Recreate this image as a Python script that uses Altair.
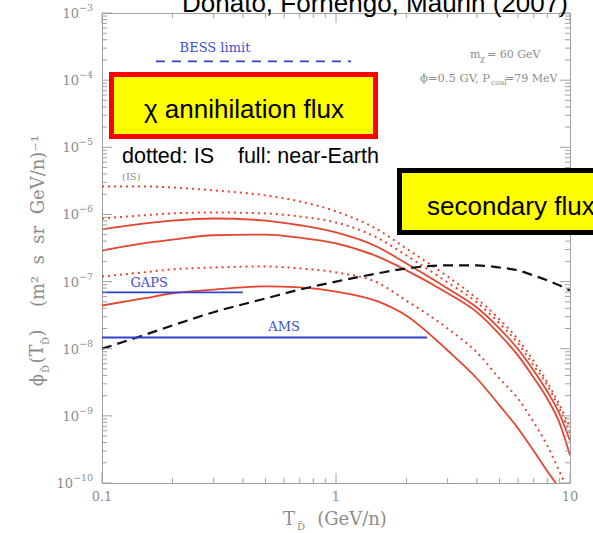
import altair as alt
import pandas as pd

# Kinetic energy per nucleon (GeV/n)
T = [0.1, 0.15, 0.2, 0.3, 0.5, 0.7, 1, 1.5, 2, 3, 4, 5, 6, 7, 8, 9, 10]

# Antideuteron fluxes (m^2 s sr GeV/n)^-1 from chi annihilation
is_high = [2.61e-6, 2.61e-6, 2.52e-6, 2.28e-6, 1.92e-6, 1.56e-6, 1.11e-6, 6.0e-7, 3.1e-7,
           1.19e-7, 5.6e-8, 2.73e-8, 1.37e-8, 6.5e-9, 3.15e-9, 1.48e-9, 6.7e-10]
is_mid = [8.7e-7, 9.7e-7, 1.035e-6, 1.07e-6, 1.035e-6, 9.3e-7, 7.6e-7, 4.5e-7, 2.45e-7,
          9.7e-8, 4.9e-8, 2.38e-8, 1.20e-8, 5.6e-9, 2.84e-9, 1.29e-9, 5.5e-10]
is_low = [1.19e-7, 1.37e-7, 1.52e-7, 1.62e-7, 1.68e-7, 1.57e-7, 1.37e-7, 9.7e-8, 5.2e-8,
          2.0e-8, 8.8e-9, 3.6e-9, 1.8e-9, 8.0e-10, 3.6e-10, 1.5e-10, 6.7e-11]
ne_high = [6.0e-7, 7.3e-7, 8.1e-7, 8.7e-7, 8.1e-7, 6.9e-7, 5.4e-7, 3.3e-7, 1.86e-7,
           7.9e-8, 4.1e-8, 2.0e-8, 9.8e-9, 4.7e-9, 2.3e-9, 1.09e-9, 4.3e-10]
ne_mid = [2.9e-7, 3.7e-7, 4.2e-7, 4.9e-7, 5.0e-7, 4.5e-7, 3.7e-7, 2.37e-7, 1.47e-7,
          6.7e-8, 3.5e-8, 1.63e-8, 7.9e-9, 3.7e-9, 1.8e-9, 8.0e-10, 2.6e-10]
ne_low = [4.4e-8, 5.6e-8, 6.7e-8, 7.6e-8, 8.5e-8, 8.2e-8, 7.1e-8, 5.1e-8, 3.1e-8,
          9.4e-9, 3.6e-9, 1.43e-9, 6.5e-10, 3.0e-10, 1.5e-10, 8.2e-11, 4.1e-11]
# Secondary (spallation) antideuteron flux
secondary = [1.0e-8, 1.58e-8, 2.22e-8, 3.5e-8, 5.6e-8, 7.6e-8, 1.0e-7, 1.32e-7, 1.57e-7,
             1.74e-7, 1.74e-7, 1.62e-7, 1.47e-7, 1.23e-7, 1.04e-7, 8.8e-8, 7.4e-8]

# Experimental sensitivities
limit_names = ["BESS limit", "GAPS", "AMS"]
limit_tmin = [0.17, 0.1, 0.1]
limit_tmax = [1.16, 0.40, 2.45]
limit_flux = [1.9e-4, 6.9e-8, 1.47e-8]
label_t = [0.304, 0.159, 0.60]
label_flux = [2.96e-4, 9.4e-8, 2.07e-8]

# Axis ticks and their labels
x_major = [0.1, 1, 10]
x_tick_labels = ["0.1", "1", "10"]
x_minor = [0.2, 0.3, 0.4, 0.5, 0.6, 0.7, 0.8, 0.9, 2, 3, 4, 5, 6, 7, 8, 9]
y_major = [1e-10, 1e-9, 1e-8, 1e-7, 1e-6, 1e-5, 1e-4, 1e-3]
y_tick_exponents = ["−10", "−9", "−8", "−7", "−6", "−5", "−4", "−3"]
y_minor = [k * 10.0 ** e for e in range(-10, -3) for k in range(2, 10)]

RED = "#e5452f"
BLUE = "#2f42d0"
GRAY = "#8c8c8c"
FRAME = "#a0a0a0"
SERIF = "DejaVu Serif"
SANS = "Liberation Sans"
NB = "\u00a0"

W, H = 468, 470

series = [
    ("IS high", is_high, "IS"), ("IS mid", is_mid, "IS"), ("IS low", is_low, "IS"),
    ("NE high", ne_high, "NE"), ("NE mid", ne_mid, "NE"), ("NE low", ne_low, "NE"),
    ("secondary", secondary, "sec"),
]
rows = []
for name, vals, kind in series:
    for t, v in zip(T, vals):
        rows.append({"T": t, "flux": v, "curve": name, "kind": kind})
df = pd.DataFrame(rows)

xs = alt.Scale(type="log", domain=[0.1, 10], nice=False)
ys = alt.Scale(type="log", domain=[1e-10, 1e-3], nice=False)

base = alt.Chart(df)
enc = dict(x=alt.X("T:Q", scale=xs, axis=None), y=alt.Y("flux:Q", scale=ys, axis=None),
           detail="curve:N")

near_earth = base.transform_filter("datum.kind == 'NE'").mark_line(
    color=RED, strokeWidth=1.8, interpolate="monotone", clip=True).encode(**enc)
interstellar = base.transform_filter("datum.kind == 'IS'").mark_line(
    color=RED, strokeWidth=2, strokeDash=[2, 4], interpolate="monotone", clip=True).encode(**enc)
second = base.transform_filter("datum.kind == 'sec'").mark_line(
    color="#111111", strokeWidth=2.2, strokeDash=[10, 6], interpolate="monotone", clip=True).encode(**enc)

lim = pd.DataFrame({"name": limit_names, "t1": limit_tmin, "t2": limit_tmax, "f": limit_flux,
                    "lt": label_t, "lf": label_flux})
lim_enc = dict(x=alt.X("t1:Q", scale=xs, axis=None), x2="t2:Q", y=alt.Y("f:Q", scale=ys, axis=None))
bess = alt.Chart(lim).transform_filter("datum.name == 'BESS limit'").mark_rule(
    color=BLUE, strokeWidth=1.8, strokeDash=[9, 7]).encode(**lim_enc)
others = alt.Chart(lim).transform_filter("datum.name != 'BESS limit'").mark_rule(
    color=BLUE, strokeWidth=1.8).encode(**lim_enc)
lim_text = alt.Chart(lim).mark_text(font=SERIF, fontSize=13, color="#3b50d6").encode(
    x=alt.X("lt:Q", scale=xs, axis=None), y=alt.Y("lf:Q", scale=ys, axis=None), text="name:N")


# frame ticks, pointing inward on all four sides
def xticks(vals, length):
    d = alt.Chart(pd.DataFrame({"v": vals}))
    return [d.mark_rule(color=FRAME, strokeWidth=1).encode(
        x=alt.X("v:Q", scale=xs, axis=None), y=alt.value(y0), y2=alt.value(y1))
        for y0, y1 in ((H, H - length), (0, length))]


def yticks(vals, length):
    d = alt.Chart(pd.DataFrame({"v": vals}))
    return [d.mark_rule(color=FRAME, strokeWidth=1).encode(
        y=alt.Y("v:Q", scale=ys, axis=None), x=alt.value(x0), x2=alt.value(x1))
        for x0, x1 in ((0, length), (W, W - length))]


ticks = xticks(x_major, 10) + xticks(x_minor, 5) + yticks(y_major, 10) + yticks(y_minor, 5)

x_labels = alt.Chart(pd.DataFrame({"v": x_major, "s": x_tick_labels})).mark_text(
    font=SERIF, fontSize=13, color=GRAY, align="center", baseline="middle").encode(
    x=alt.X("v:Q", scale=xs, axis=None), y=alt.value(H + 14), text="s:N")

# y labels: "10" followed by a raised exponent
ylab = alt.Chart(pd.DataFrame({"v": y_major, "e": y_tick_exponents}))
y_exp = ylab.mark_text(font=SERIF, fontSize=9.5, color=GRAY, align="right", baseline="middle",
                       dy=-5).encode(y=alt.Y("v:Q", scale=ys, axis=None), x=alt.value(-9), text="e:N")
y_ten = ylab.transform_calculate(
    px="datum.v < 5e-10 ? -29 : -23", ten="'10'").mark_text(
    font=SERIF, fontSize=13, color=GRAY, align="right", baseline="middle", dy=1).encode(
    y=alt.Y("v:Q", scale=ys, axis=None), x=alt.X("px:Q", scale=None, axis=None), text="ten:N")

one = pd.DataFrame({"a": [0]})


def label(text, x, y, size, color, font=SANS, align="left", baseline="alphabetic", angle=0):
    kw = dict(text=text, font=font, fontSize=size, color=color, align=align, baseline=baseline)
    if angle:
        kw["angle"] = angle
    return alt.Chart(one).mark_text(**kw).encode(x=alt.value(x), y=alt.value(y))


def box(x1, x2, y1, y2, stroke):
    return alt.Chart(one).mark_rect(fill="#ffff00", stroke=stroke, strokeWidth=5).encode(
        x=alt.value(x1), x2=alt.value(x2), y=alt.value(y1), y2=alt.value(y2))


notes = [
    label("Donato, Fornengo, Maurin (2007)", 80, -1, 26, "#000000"),
    box(9.5, 273.5, 61.5, 123.5, "#ff0000"),
    label("χ annihilation flux", 142, 105, 26, "#000000", align="center"),
    label("dotted: IS" + NB * 4 + "full: near-Earth", 20, 150, 21.5, "#000000"),
    box(297.5, 500, 157.5, 219.5, "#000000"),
    label("secondary flux", 325, 202, 26, "#000000"),
    label("m", 368, 45, 11, GRAY, font=SERIF),
    label("χ", 378, 48, 8, GRAY, font=SERIF),
    label("= 60 GeV", 385, 45, 11, GRAY, font=SERIF),
    label("ϕ=0.5 GV, P", 388, 69, 11.5, GRAY, font=SERIF, align="right"),
    label("coal", 389, 72, 7.5, GRAY, font=SERIF),
    label("=79 MeV", 403, 69, 11, GRAY, font=SERIF),
    label("(IS)", 20, 167, 10, GRAY, font=SERIF),
    # x-axis title
    label("T", 187, 512, 18, GRAY, font=SERIF, align="center"),
    label("D̄", 199, 517, 10, GRAY, font=SERIF, align="center"),
    label("(GeV/n)", 250, 512, 18, GRAY, font=SERIF, align="center"),
    # y-axis title, reading upward
    label("ϕ", -59, 367, 18, GRAY, font=SERIF, align="center", angle=270),
    label("D̄", -53, 356, 10, GRAY, font=SERIF, align="center", angle=270),
    label("(T", -59, 341, 18, GRAY, font=SERIF, align="center", angle=270),
    label("D̄", -53, 328, 10, GRAY, font=SERIF, align="center", angle=270),
    label(")", -59, 320, 18, GRAY, font=SERIF, align="center", angle=270),
    label("(m²" + NB * 2 + "s" + NB * 2 + "sr" + NB * 2 + "GeV/n)⁻¹", -58, 208, 18, GRAY,
          font=SERIF, align="center", angle=270),
]

chart = alt.layer(near_earth, interstellar, second, bess, others, lim_text, *ticks,
                  x_labels, y_exp, y_ten, *notes).properties(
    width=W, height=H,
    padding={"left": 102, "top": 13, "right": 23, "bottom": 50},
    autosize=alt.AutoSizeParams(type="none"),
    background="#ffffff",
).configure_view(stroke=FRAME, strokeWidth=1)

chart.save("out.html", embed_options={"renderer": "svg", "actions": False})
